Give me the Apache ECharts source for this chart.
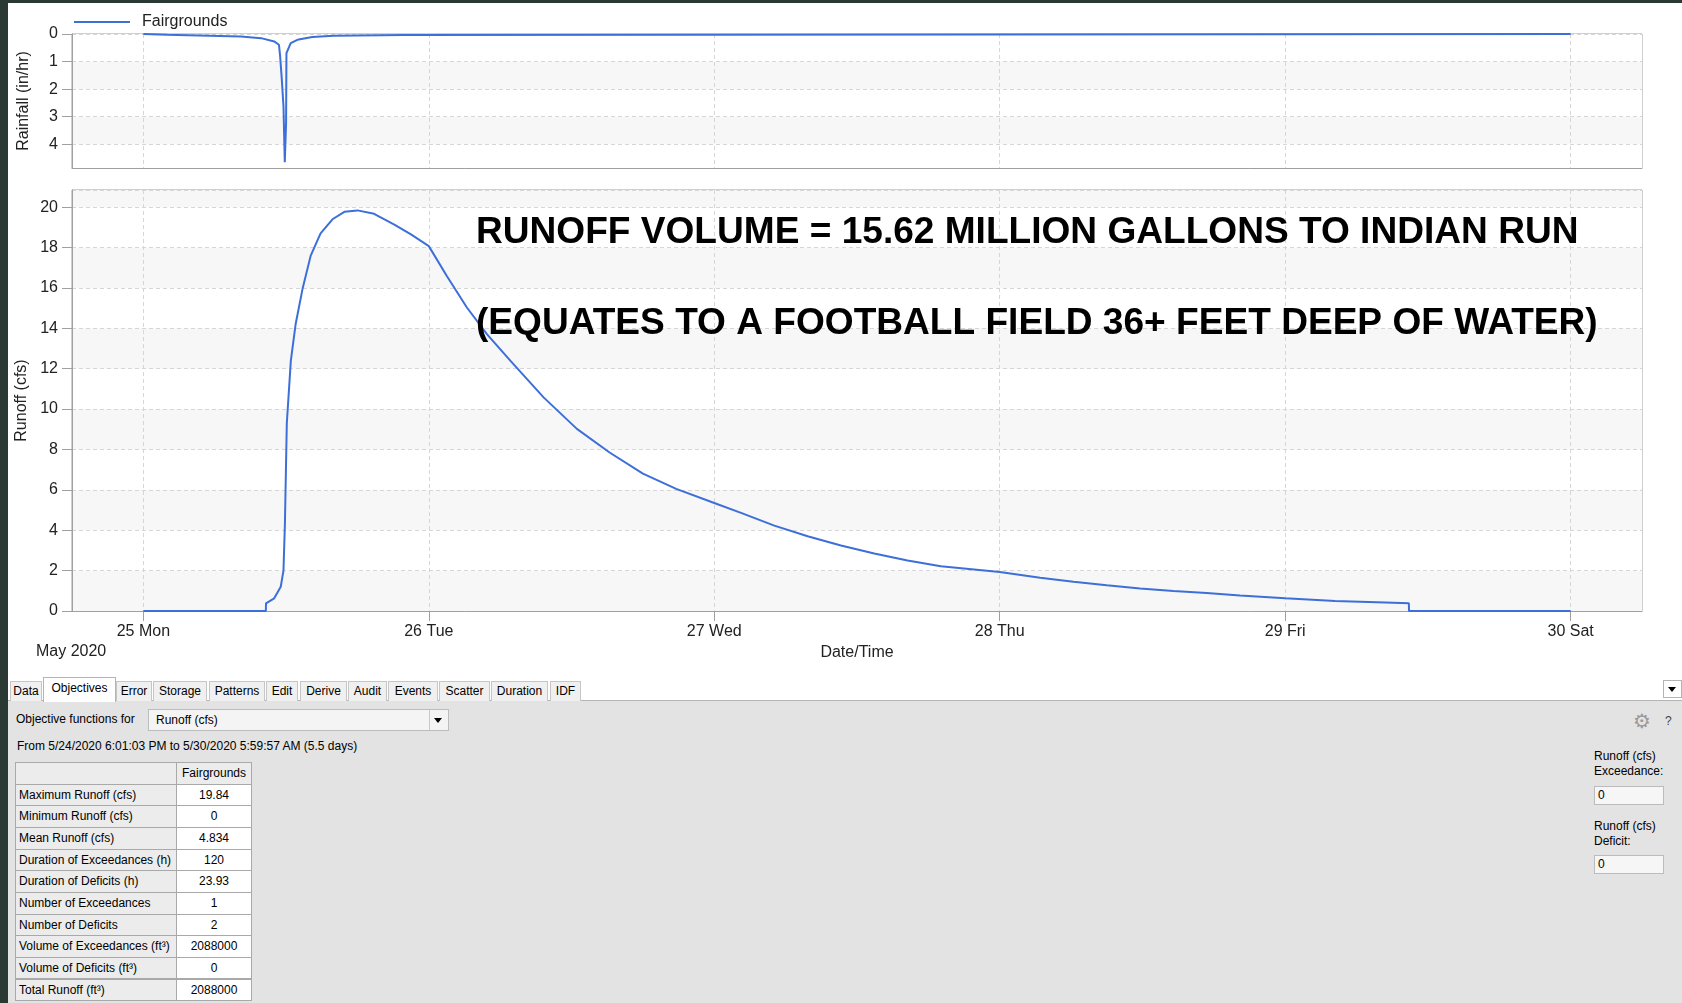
<!DOCTYPE html>
<html>
<head>
<meta charset="utf-8">
<script src="https://cdn.jsdelivr.net/npm/echarts@6/dist/echarts.min.js"></script>
<style>
body{margin:0;background:#2b3934;width:1682px;height:1003px;overflow:hidden;position:relative;font-family:"Liberation Sans",Arial,sans-serif;}
#white{position:absolute;left:8px;top:3px;width:1674px;height:698px;background:#fff;}
#chart{position:absolute;left:8px;top:3px;width:1674px;height:676px;}
#panel{position:absolute;left:8px;top:700px;width:1674px;height:303px;background:#e3e3e3;border-top:1px solid #b4b4b4;box-sizing:border-box;}
.t{position:absolute;font-size:12px;line-height:14px;color:#000;white-space:nowrap;}
.tab{position:absolute;top:681px;height:20px;box-sizing:border-box;border:1px solid #c6c6c6;border-bottom:none;background:#f0f0f0;font-size:12px;line-height:18px;text-align:center;color:#000;}
.tab.sel{top:677px;height:25px;background:#fff;border-color:#b4b4b4;line-height:20px;z-index:2;}
.cell{position:absolute;box-sizing:border-box;border:1px solid #a9a9a9;font-size:12px;line-height:19px;padding-top:1px;white-space:nowrap;}
.box{position:absolute;box-sizing:border-box;border:1px solid #bcbcbc;background:#f6f6f6;font-size:12px;line-height:17px;padding-left:3px;}
.tri{position:absolute;width:0;height:0;border-left:4px solid transparent;border-right:4px solid transparent;border-top:5px solid #000;}
</style>
</head>
<body>
<div id="white"></div>
<div id="chart"></div>
<div id="panel"></div>
<div id="ui"></div>
<script>
// rainfall (in/hr), hours after 25 May 2020 00:00
const rainHours = [0, 2.0, 8.2, 9.9, 11.0, 11.4, 11.5, 11.63, 11.78, 11.89, 12.0, 12.03, 12.39, 12.95, 14.2, 16.0, 21.9, 22.0, 120];
const rainInHr = [0, 0.03, 0.09, 0.15, 0.27, 0.39, 0.81, 1.59, 2.62, 4.65, 3.22, 0.69, 0.33, 0.21, 0.11, 0.06, 0.04, 0, 0];

// runoff (cfs)
const runoffHours = [0, 10.3, 10.31, 11.0, 11.55, 11.78, 11.9, 12.06, 12.4, 12.8, 13.4, 14.07, 14.9, 15.9, 16.9, 18.0, 19.4, 21.1, 22.5, 24.0,
  25.5, 27.2, 28.9, 30.85, 33.65, 36.45, 39.2, 42.0, 44.8, 48.0, 50.25, 53.05, 55.85, 58.65, 61.45, 64.25, 67.05, 72.0,
  75.4, 78.2, 81.0, 83.8, 86.6, 89.4, 92.2, 96.0, 100.2, 104.4, 106.4, 106.41, 120];
const runoffCfs = [0, 0, 0.38, 0.63, 1.2, 2.0, 4.3, 9.3, 12.4, 14.2, 16.0, 17.6, 18.7, 19.4, 19.77, 19.84, 19.67, 19.14, 18.65, 18.07,
  16.6, 15.03, 13.7, 12.4, 10.58, 9.02, 7.85, 6.8, 6.05, 5.35, 4.86, 4.23, 3.70, 3.24, 2.85, 2.50, 2.22, 1.93,
  1.65, 1.45, 1.28, 1.12, 0.99, 0.89, 0.77, 0.63, 0.5, 0.42, 0.38, 0, 0];

const dayHours = [0, 24, 48, 72, 96, 120];
const dayLabels = ['25 Mon', '26 Tue', '27 Wed', '28 Thu', '29 Fri', '30 Sat'];

const tabNames = ['Data', 'Objectives', 'Error', 'Storage', 'Patterns', 'Edit', 'Derive', 'Audit', 'Events', 'Scatter', 'Duration', 'IDF'];
const tableLabels = ['Maximum Runoff (cfs)', 'Minimum Runoff (cfs)', 'Mean Runoff (cfs)', 'Duration of Exceedances (h)', 'Duration of Deficits (h)',
  'Number of Exceedances', 'Number of Deficits', 'Volume of Exceedances (ft³)', 'Volume of Deficits (ft³)', 'Total Runoff (ft³)'];
const tableValues = ['19.84', '0', '4.834', '120', '23.93', '1', '2', '2088000', '0', '2088000'];

const FONT = '"Liberation Sans", Arial, sans-serif';
const LINE = '#3d6fd9';
const AXIS = '#a0a0a0';
const GRIDLINE = { show: true, lineStyle: { color: '#d6d6d6', type: [4, 3], width: 1 } };

const chart = echarts.init(document.getElementById('chart'));

const option = {
  animation: false,
  textStyle: { fontFamily: FONT },
  legend: {
    data: ['Fairgrounds'],
    left: 61, top: 6,
    icon: 'rect', itemWidth: 56, itemHeight: 2,
    textStyle: { fontSize: 16, color: '#222', padding: [0, 0, 0, 7] }
  },
  grid: [
    { left: 64, top: 31, width: 1570, height: 134, show: true, borderColor: AXIS, borderWidth: 1, outerBoundsMode: 'none' },
    { left: 64, top: 187, width: 1570, height: 421, show: true, borderColor: AXIS, borderWidth: 1, outerBoundsMode: 'none' }
  ],
  xAxis: [
    {
      type: 'value', gridIndex: 0, min: -6, max: 126,
      axisLine: { onZero: false, lineStyle: { color: AXIS } },
      axisTick: { show: false, customValues: dayHours },
      axisLabel: { show: false, customValues: dayHours },
      splitLine: GRIDLINE
    },
    {
      type: 'value', gridIndex: 1, min: -6, max: 126,
      name: 'Date/Time', nameLocation: 'middle', nameGap: 32,
      nameTextStyle: { fontSize: 16, color: '#222' },
      axisLine: { onZero: false, lineStyle: { color: AXIS } },
      axisTick: { show: true, length: 10, customValues: dayHours, lineStyle: { color: AXIS } },
      axisLabel: {
        customValues: dayHours, margin: 13, fontSize: 16, color: '#222',
        formatter: v => dayLabels[dayHours.indexOf(v)]
      },
      splitLine: GRIDLINE
    }
  ],
  yAxis: [
    {
      type: 'value', gridIndex: 0, inverse: true, min: 0, max: 4.86, interval: 1,
      name: 'Rainfall (in/hr)', nameLocation: 'middle', nameGap: 40,
      nameTextStyle: { fontSize: 16, color: '#222' },
      axisLine: { show: true, onZero: false, lineStyle: { color: AXIS } },
      axisTick: { show: true, length: 10, lineStyle: { color: AXIS } },
      axisLabel: { fontSize: 16, color: '#222', margin: 14, showMaxLabel: false },
      splitLine: GRIDLINE,
      splitArea: { show: true, areaStyle: { color: ['#ffffff', '#f7f7f7'] } }
    },
    {
      type: 'value', gridIndex: 1, min: 0, max: 20.85, interval: 2,
      name: 'Runoff (cfs)', nameLocation: 'middle', nameGap: 40,
      nameTextStyle: { fontSize: 16, color: '#222' },
      axisLine: { show: true, onZero: false, lineStyle: { color: AXIS } },
      axisTick: { show: true, length: 10, lineStyle: { color: AXIS } },
      axisLabel: { fontSize: 16, color: '#222', margin: 14, showMaxLabel: false },
      splitLine: GRIDLINE,
      splitArea: { show: true, areaStyle: { color: ['#f7f7f7', '#ffffff'] } }
    }
  ],
  graphic: [
    { type: 'text', x: 28, y: 649, style: { text: 'May 2020', font: '16px ' + FONT, fill: '#222', verticalAlign: 'middle' } },
    { type: 'text', x: 468, y: 230, z: 100, style: { text: 'RUNOFF VOLUME = 15.62 MILLION GALLONS TO INDIAN RUN', font: 'bold 37.1px ' + FONT, fill: '#000', verticalAlign: 'middle' } },
    { type: 'text', x: 468, y: 321, z: 100, style: { text: '(EQUATES TO A FOOTBALL FIELD 36+ FEET DEEP OF WATER)', font: 'bold 37.1px ' + FONT, fill: '#000', verticalAlign: 'middle' } }
  ],
  series: [
    {
      name: 'Fairgrounds', type: 'line', xAxisIndex: 0, yAxisIndex: 0,
      data: rainHours.map((h, i) => [h, rainInHr[i]]),
      showSymbol: false, color: LINE, lineStyle: { width: 2, color: LINE }
    },
    {
      name: 'Fairgrounds', type: 'line', xAxisIndex: 1, yAxisIndex: 1,
      data: runoffHours.map((h, i) => [h, runoffCfs[i]]),
      showSymbol: false, color: LINE, lineStyle: { width: 2, color: LINE }
    }
  ]
};
chart.setOption(option);

// objectives panel under the chart
const ui = document.getElementById('ui');
function add(html) { ui.insertAdjacentHTML('beforeend', html); }

const tabEdges = [[10, 42], [43, 116], [116, 152], [153, 207], [209, 265], [266, 298], [300, 347], [348, 387], [388, 438], [439, 490], [491, 548], [550, 581]];
tabNames.forEach((name, i) => {
  const [a, b] = tabEdges[i];
  add(`<div class="tab${i === 1 ? ' sel' : ''}" style="left:${a}px;width:${b - a}px">${name}</div>`);
});
add('<div style="position:absolute;left:1663px;top:680px;width:19px;height:18px;box-sizing:border-box;border:1px solid #b4b4b4;background:#fff"></div>');
add('<div class="tri" style="left:1668px;top:687px"></div>');

add('<div class="t" style="left:16px;top:712px">Objective functions for</div>');
add('<div class="box" style="left:148px;top:709px;width:301px;height:22px;line-height:20px;background:#f4f4f4;padding-left:7px">Runoff (cfs)</div>');
add('<div style="position:absolute;left:429px;top:710px;width:1px;height:20px;background:#c8c8c8"></div>');
add('<div class="tri" style="left:434px;top:718px"></div>');
add('<div class="t" style="left:17px;top:739px">From 5/24/2020 6:01:03 PM to 5/30/2020 5:59:57 AM (5.5 days)</div>');

const tblTop = 762, rowH = 21.65, col0 = 15, col1 = 176, col2 = 252;
add(`<div class="cell" style="left:${col0}px;top:${tblTop}px;width:${col1 - col0 + 1}px;height:${rowH + 1}px;background:#ececec"></div>`);
add(`<div class="cell" style="left:${col1}px;top:${tblTop}px;width:${col2 - col1}px;height:${rowH + 1}px;background:#ececec;text-align:center">Fairgrounds</div>`);
tableLabels.forEach((lab, i) => {
  const y = tblTop + rowH * (i + 1);
  add(`<div class="cell" style="left:${col0}px;top:${y}px;width:${col1 - col0 + 1}px;height:${rowH + 1}px;background:#ececec;padding-left:3px">${lab}</div>`);
  add(`<div class="cell" style="left:${col1}px;top:${y}px;width:${col2 - col1}px;height:${rowH + 1}px;background:#fff;text-align:center">${tableValues[i]}</div>`);
});

add('<div class="t" style="left:1633px;top:709px;font-size:20px;line-height:24px;color:#9a9a9a;font-family:\'DejaVu Sans\'">&#9881;</div>');
add('<div class="t" style="left:1665px;top:714px;color:#444">?</div>');
add('<div class="t" style="left:1594px;top:749px">Runoff (cfs)</div>');
add('<div class="t" style="left:1594px;top:764px">Exceedance:</div>');
add('<div class="box" style="left:1594px;top:786px;width:70px;height:19px">0</div>');
add('<div class="t" style="left:1594px;top:819px">Runoff (cfs)</div>');
add('<div class="t" style="left:1594px;top:834px">Deficit:</div>');
add('<div class="box" style="left:1594px;top:855px;width:70px;height:19px">0</div>');
</script>
</body>
</html>
